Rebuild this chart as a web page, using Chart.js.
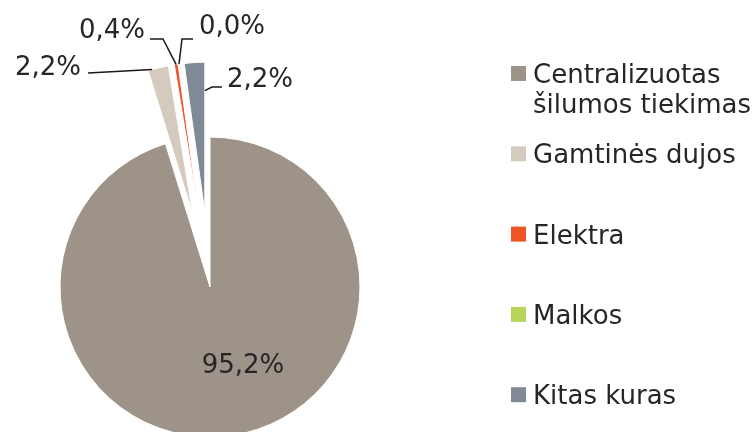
<!DOCTYPE html>
<html>
<head>
<meta charset="utf-8">
<script src="https://cdn.jsdelivr.net/npm/chart.js@4/dist/chart.umd.min.js"></script>
<style>
  body { margin: 0; background: #fff; }
  #wrap { width: 755px; height: 432px; position: relative; }
</style>
</head>
<body>
<div id="wrap"><canvas id="pie-chart"></canvas></div>
<script>
// categories and shares (%)
const categories = ['Centralizuotas\nšilumos tiekimas', 'Gamtinės dujos', 'Elektra', 'Malkos', 'Kitas kuras'];
const shares = [95.2, 2.2, 0.4, 0.0, 2.2];
const colors = ['#9e9389', '#d4cbbe', '#ef5428', '#b6d65a', '#7f8a96'];

// how far each slice is pulled out of the pie, px
const explode = [0, 75, 75, 75, 75];

// label placement: t = position along the slice angle, r = fraction of radius,
// path = leader line bends, text = label anchor
const labelLayout = [
    {path: null, text: [243, 373], align: 'center'},
    {t: 0.2, r: 1, path: [[88, 73]], text: [81, 75], align: 'right'},
    {t: 0.5, r: 1, path: [[163, 39], [150, 39]], text: [145, 38], align: 'right'},
    {t: 0.5, r: 1, path: [[182, 39], [193, 39]], text: [199, 34], align: 'left'},
    {t: 1, r: 0.81, path: [[212, 87], [222, 87]], text: [227, 87], align: 'left'}
];

const font = '26px "DejaVu Sans", Verdana, sans-serif';
const textColor = '#262626';

function fmt(v) {
    return v.toFixed(1).replace('.', ',') + '%';
}

const explodePlugin = {
    id: 'explode',
    afterDatasetUpdate(chart, args) {
        args.meta.data.forEach((arc, i) => {
            const d = explode[i];
            if (!d) return;
            const mid = (arc.startAngle + arc.endAngle) / 2;
            arc.x += Math.cos(mid) * d;
            arc.y += Math.sin(mid) * d;
        });
    }
};

const labelPlugin = {
    id: 'sliceLabels',
    afterDraw(chart) {
        const ctx = chart.ctx;
        const meta = chart.getDatasetMeta(0);
        ctx.save();
        ctx.font = font;
        ctx.fillStyle = textColor;
        ctx.strokeStyle = '#1a1a1a';
        ctx.lineWidth = 1.5;
        ctx.textBaseline = 'alphabetic';
        meta.data.forEach((arc, i) => {
            const lay = labelLayout[i];
            if (lay.path) {
                const a = arc.startAngle + lay.t * (arc.endAngle - arc.startAngle);
                const r = arc.outerRadius * lay.r;
                ctx.beginPath();
                ctx.moveTo(arc.x + Math.cos(a) * r, arc.y + Math.sin(a) * r);
                lay.path.forEach(p => ctx.lineTo(p[0], p[1]));
                ctx.stroke();
            }
            ctx.textAlign = lay.align;
            ctx.fillText(fmt(shares[i]), lay.text[0], lay.text[1]);
        });
        ctx.restore();
    }
};

const legendPlugin = {
    id: 'sideLegend',
    afterDraw(chart) {
        const ctx = chart.ctx;
        const x0 = 511, y0 = 83, step = 80.3, box = 15, lineH = 30;
        ctx.save();
        ctx.font = font;
        ctx.textAlign = 'left';
        ctx.textBaseline = 'alphabetic';
        categories.forEach((label, i) => {
            const y = y0 + i * step;
            ctx.fillStyle = colors[i];
            ctx.fillRect(x0, y - 17, box, box);
            ctx.fillStyle = textColor;
            label.split('\n').forEach((line, j) => {
                ctx.fillText(line, x0 + 22, y + j * lineH);
            });
        });
        ctx.restore();
    }
};

let pieElement = document.getElementById('pie-chart').getContext('2d');

let pieChart = new Chart(pieElement, {
    type: 'pie',
    data: {
        labels: categories,
        datasets: [{
            data: shares,
            backgroundColor: colors,
            borderColor: '#ffffff',
            borderWidth: 1
        }]
    },
    options: {
        responsive: true,
        maintainAspectRatio: false,
        animation: false,
        radius: 150,
        layout: {
            padding: {left: 0, right: 335, top: 142, bottom: 0}
        },
        plugins: {
            legend: {display: false},
            tooltip: {enabled: false}
        }
    },
    plugins: [explodePlugin, labelPlugin, legendPlugin]
});
</script>
</body>
</html>
